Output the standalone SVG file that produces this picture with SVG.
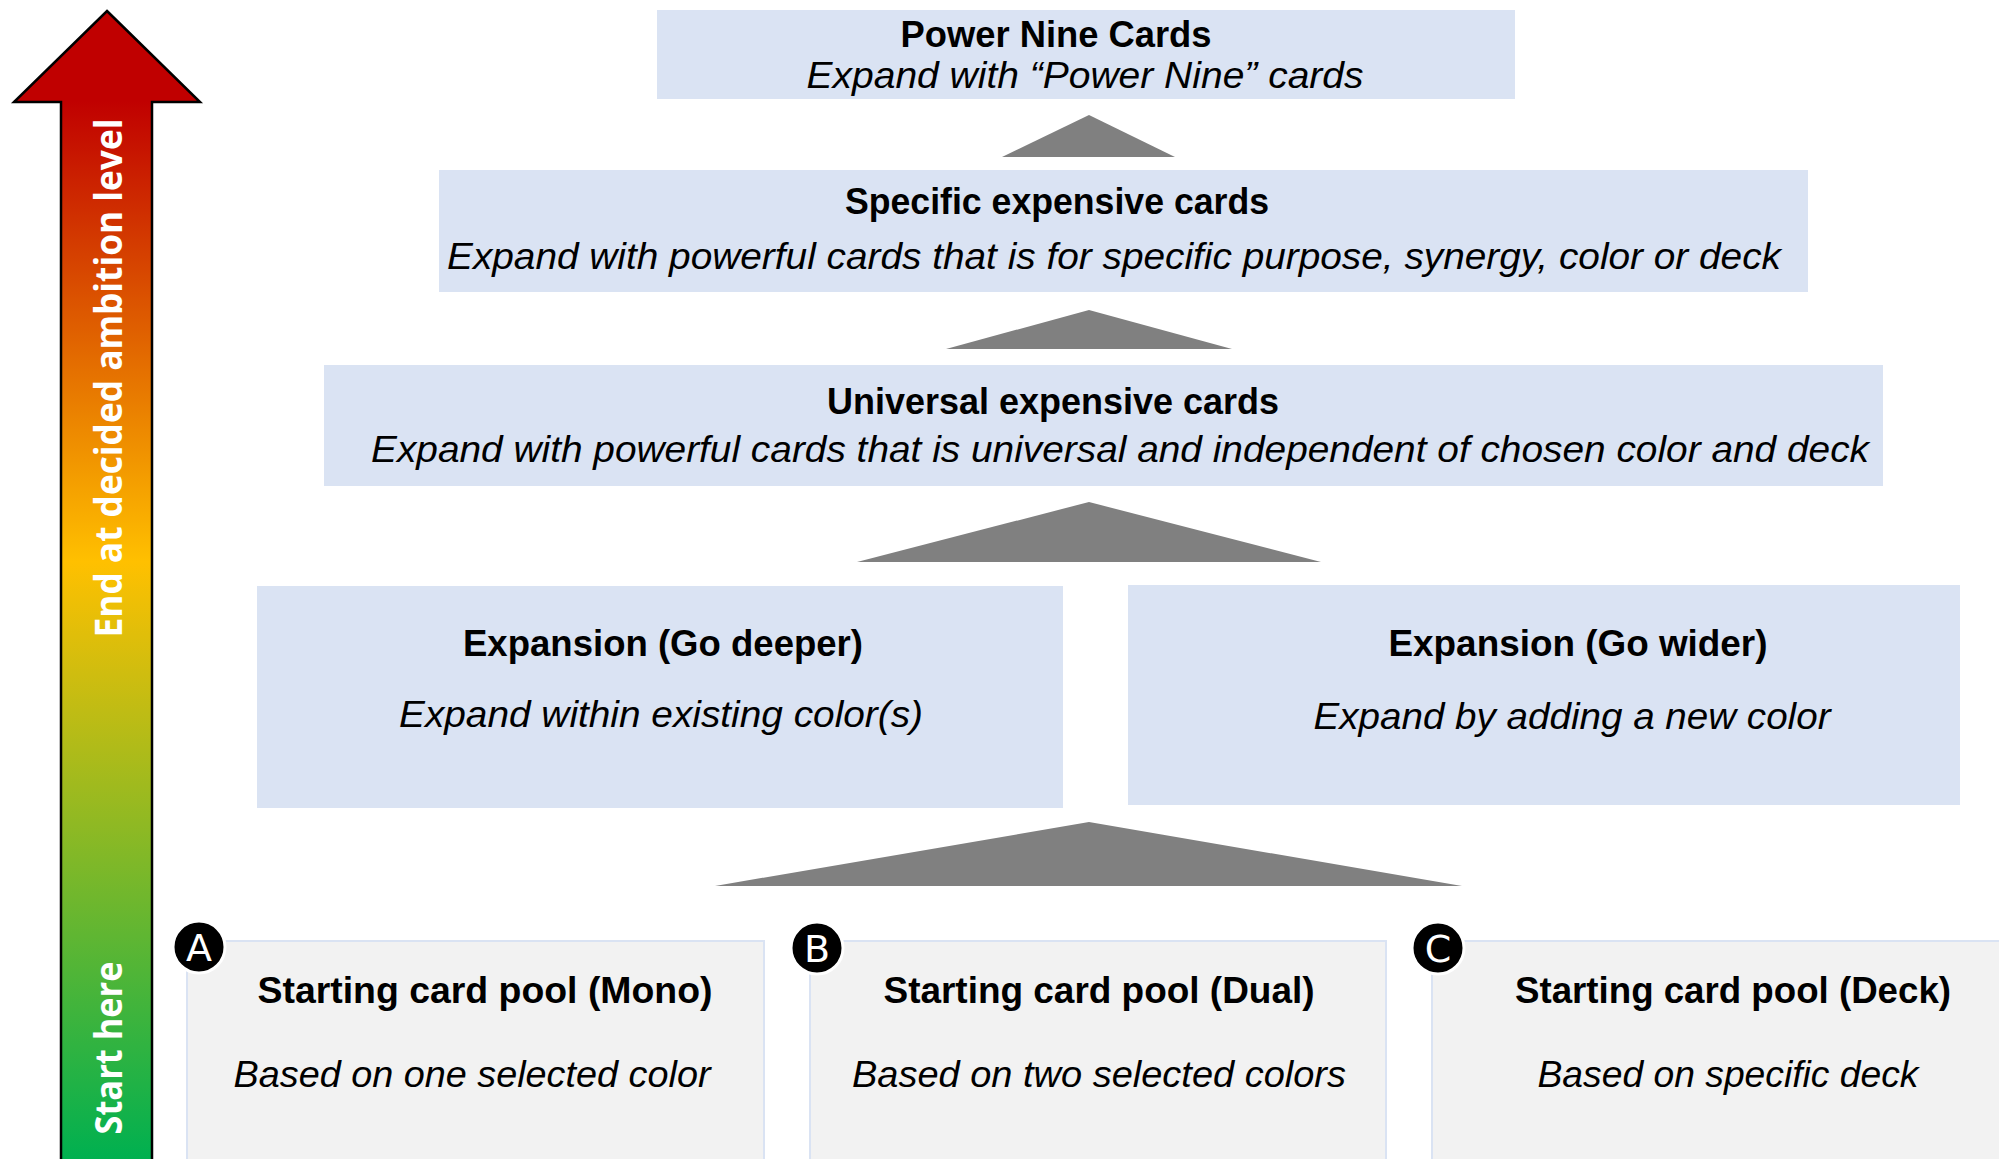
<svg xmlns="http://www.w3.org/2000/svg" width="1999" height="1159" viewBox="0 0 1999 1159">
  <defs>
    <linearGradient id="ambition" x1="0" y1="11" x2="0" y2="1159" gradientUnits="userSpaceOnUse">
      <stop offset="0.078" stop-color="#C00000"/>
      <stop offset="0.48" stop-color="#FFC000"/>
      <stop offset="1" stop-color="#00B050"/>
    </linearGradient>
    <style>
      .stage { fill: #DAE3F3; }
      .pool { fill: #F2F2F2; stroke: #DAE3F3; stroke-width: 2; }
      .title { font-family: "Liberation Sans", Arial, sans-serif; font-weight: 700; font-size: 36px; fill: #000; text-anchor: middle; }
      .sub { font-family: "Liberation Sans", Arial, sans-serif; font-style: italic; font-size: 37px; fill: #000; text-anchor: middle; }
      .step { fill: #808080; }
      .badge { fill: #000; stroke: #FFF; stroke-width: 3; }
      .badge-text { font-family: "DejaVu Sans", "Liberation Sans", sans-serif; font-size: 38px; fill: #FFF; text-anchor: middle; }
      .axis-text { font-family: "Open Sans", "Liberation Sans", sans-serif; font-weight: 700; font-size: 37px; fill: #FFF; text-anchor: middle; }
    </style>
  </defs>

  <rect width="1999" height="1159" fill="#FFFFFF"/>

  <!-- ambition axis -->
  <g id="ambition-arrow">
    <polygon points="107,11 200,102 152,102 152,1175 61,1175 61,102 14,102" fill="url(#ambition)" stroke="#000" stroke-width="2.5" stroke-linejoin="miter"/>
    <text class="axis-text" transform="translate(122,378) rotate(-90)" textLength="519" lengthAdjust="spacingAndGlyphs">End at decided ambition level</text>
    <text class="axis-text" transform="translate(122,1048) rotate(-90)" textLength="173" lengthAdjust="spacingAndGlyphs">Start here</text>
  </g>

  <!-- step connectors between levels -->
  <g id="connectors">
    <polygon class="step" points="1089,115 1175,157 1002,157"/>
    <polygon class="step" points="1089,310 1232,349 946,349"/>
    <polygon class="step" points="1089,502 1321,562 857,562"/>
    <polygon class="step" points="1089,822 1462,886 715,886"/>
  </g>

  <g id="power-nine">
    <rect class="stage" x="657" y="10" width="858" height="89"/>
    <text class="title" x="1056" y="47" textLength="311" lengthAdjust="spacingAndGlyphs">Power Nine Cards</text>
    <text class="sub" x="1085" y="88" textLength="557" lengthAdjust="spacingAndGlyphs">Expand with “Power Nine” cards</text>
  </g>

  <g id="specific-expensive">
    <rect class="stage" x="439" y="170" width="1369" height="122"/>
    <text class="title" x="1057" y="214" textLength="424" lengthAdjust="spacingAndGlyphs">Specific expensive cards</text>
    <text class="sub" x="1114" y="269" textLength="1334" lengthAdjust="spacingAndGlyphs">Expand with powerful cards that is for specific purpose, synergy, color or deck</text>
  </g>

  <g id="universal-expensive">
    <rect class="stage" x="324" y="365" width="1559" height="121"/>
    <text class="title" x="1053" y="414" textLength="452" lengthAdjust="spacingAndGlyphs">Universal expensive cards</text>
    <text class="sub" x="1120" y="462" textLength="1498" lengthAdjust="spacingAndGlyphs">Expand with powerful cards that is universal and independent of chosen color and deck</text>
  </g>

  <g id="go-deeper">
    <rect class="stage" x="257" y="586" width="806" height="222"/>
    <text class="title" x="663" y="656" textLength="400" lengthAdjust="spacingAndGlyphs">Expansion (Go deeper)</text>
    <text class="sub" x="661" y="727" textLength="524" lengthAdjust="spacingAndGlyphs">Expand within existing color(s)</text>
  </g>

  <g id="go-wider">
    <rect class="stage" x="1128" y="585" width="832" height="220"/>
    <text class="title" x="1578" y="656" textLength="379" lengthAdjust="spacingAndGlyphs">Expansion (Go wider)</text>
    <text class="sub" x="1572" y="729" textLength="517" lengthAdjust="spacingAndGlyphs">Expand by adding a new color</text>
  </g>

  <g id="pool-mono">
    <rect class="pool" x="187" y="941" width="577" height="240"/>
    <text class="title" x="485" y="1003" textLength="455" lengthAdjust="spacingAndGlyphs">Starting card pool (Mono)</text>
    <text class="sub" x="472" y="1087" textLength="477" lengthAdjust="spacingAndGlyphs">Based on one selected color</text>
    <circle class="badge" cx="199" cy="947" r="26"/>
    <text class="badge-text" x="199" y="961">A</text>
  </g>

  <g id="pool-dual">
    <rect class="pool" x="810" y="941" width="576" height="240"/>
    <text class="title" x="1099" y="1003" textLength="431" lengthAdjust="spacingAndGlyphs">Starting card pool (Dual)</text>
    <text class="sub" x="1099" y="1087" textLength="494" lengthAdjust="spacingAndGlyphs">Based on two selected colors</text>
    <circle class="badge" cx="817" cy="948" r="26"/>
    <text class="badge-text" x="817" y="962">B</text>
  </g>

  <g id="pool-deck">
    <rect class="pool" x="1432" y="941" width="600" height="240"/>
    <text class="title" x="1733" y="1003" textLength="436" lengthAdjust="spacingAndGlyphs">Starting card pool (Deck)</text>
    <text class="sub" x="1728" y="1087" textLength="381" lengthAdjust="spacingAndGlyphs">Based on specific deck</text>
    <circle class="badge" cx="1438" cy="948" r="26"/>
    <text class="badge-text" x="1438" y="962">C</text>
  </g>
</svg>
